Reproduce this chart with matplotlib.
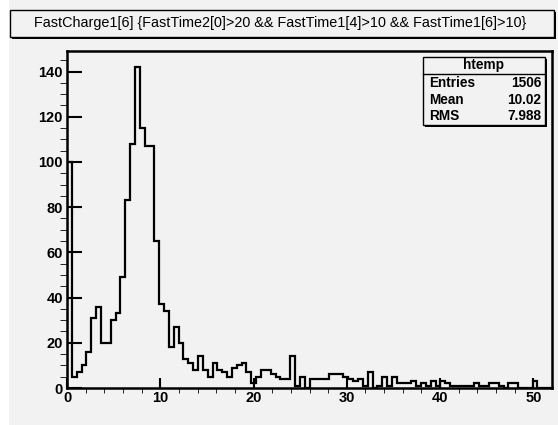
import matplotlib.pyplot as plt
import numpy as np
from matplotlib.patches import Rectangle

plt.rcParams['font.family'] = ['Liberation Sans', 'DejaVu Sans']

# histogram htemp: 100 bins from 0 to 52
x_min, x_max, n_bins = 0, 52, 100
counts = [100, 5, 7, 10, 16, 31, 36, 20, 20, 30,
          33, 49, 83, 108, 142, 115, 107, 107, 65, 37,
          34, 18, 27, 20, 13, 11, 8, 14, 8, 5,
          11, 8, 7, 5, 9, 10, 11, 7, 2, 5,
          8, 8, 6, 5, 4, 4, 14, 1, 5, 0,
          4, 4, 4, 4, 6, 6, 6, 5, 4, 3,
          4, 1, 7, 0, 1, 5, 1, 5, 2, 2,
          2, 3, 1, 2, 1, 3, 1, 3, 2, 1,
          1, 1, 1, 1, 2, 1, 1, 2, 2, 1,
          0, 2, 2, 0, 0, 0, 3, 0, 0, 0]

title = 'FastCharge1[6] {FastTime2[0]>20 && FastTime1[4]>10 && FastTime1[6]>10}'
stat_names = ['Entries', 'Mean', 'RMS']
stat_values = ['1506', '10.02', '7.988']

edges = np.linspace(x_min, x_max, n_bins + 1)

W, H = 558, 425
bg = '#f2f2f2'
fig = plt.figure(figsize=(W / 100, H / 100), dpi=100, facecolor=bg)


def fx(px):
    return px / W


def fy(py):
    return 1 - py / H


# white strip on the left edge
fig.add_artist(Rectangle((0, 0), fx(9), 1, transform=fig.transFigure,
                         facecolor='white', edgecolor='none'))

ax = fig.add_axes([fx(67), fy(388), fx(552) - fx(67), fy(51) - fy(388)])
ax.set_facecolor(bg)
ax.stairs(counts, edges, color='black', lw=1.6)
ax.set_xlim(x_min, x_max)
ax.set_ylim(0, max(counts) * 1.05)

ax.set_xticks(np.arange(0, 51, 10))
ax.set_xticks(np.arange(0, 51, 2), minor=True)
ax.set_yticks(np.arange(0, 141, 20))
ax.set_yticks(np.arange(0, 146, 5), minor=True)
ax.tick_params(top=False, right=False, direction='in', width=1.5, labelsize=10.5)
ax.tick_params(axis='x', which='major', length=7.2, pad=2)
ax.tick_params(axis='x', which='minor', length=3.6)
ax.tick_params(axis='y', which='major', length=10.8, pad=3)
ax.tick_params(axis='y', which='minor', length=5.4)
for lab in ax.get_xticklabels() + ax.get_yticklabels():
    lab.set_fontweight('bold')
for sp in ax.spines.values():
    sp.set_linewidth(1.8)

# title box with shadow
fig.add_artist(Rectangle((fx(12), fy(39)), fx(556) - fx(12), fy(12) - fy(39),
                         transform=fig.transFigure, facecolor='black', edgecolor='none'))
fig.add_artist(Rectangle((fx(10), fy(37)), fx(554) - fx(10), fy(10) - fy(37),
                         transform=fig.transFigure, facecolor=bg, edgecolor='black', lw=1))
fig.text(fx(280), fy(23.5), title, ha='center', va='center', fontsize=10.4)

# stats box with shadow
fig.add_artist(Rectangle((fx(425), fy(127)), fx(547) - fx(425), fy(59) - fy(127),
                         transform=fig.transFigure, facecolor='black', edgecolor='none'))
fig.add_artist(Rectangle((fx(423), fy(125)), fx(545) - fx(423), fy(57) - fy(125),
                         transform=fig.transFigure, facecolor=bg, edgecolor='black', lw=1))
fig.add_artist(plt.Line2D([fx(423), fx(545)], [fy(74), fy(74)],
                          transform=fig.transFigure, color='black', lw=1))
fig.text(fx(484), fy(65.5), 'htemp', ha='center', va='center', fontsize=9.8, fontweight='bold')
for i, (name, val) in enumerate(zip(stat_names, stat_values)):
    y = fy(83 + i * 16.5)
    fig.text(fx(429), y, name, ha='left', va='center', fontsize=9.8, fontweight='bold')
    fig.text(fx(541), y, val, ha='right', va='center', fontsize=9.8, fontweight='bold')

fig.savefig('out.png', dpi=100, facecolor=bg)
